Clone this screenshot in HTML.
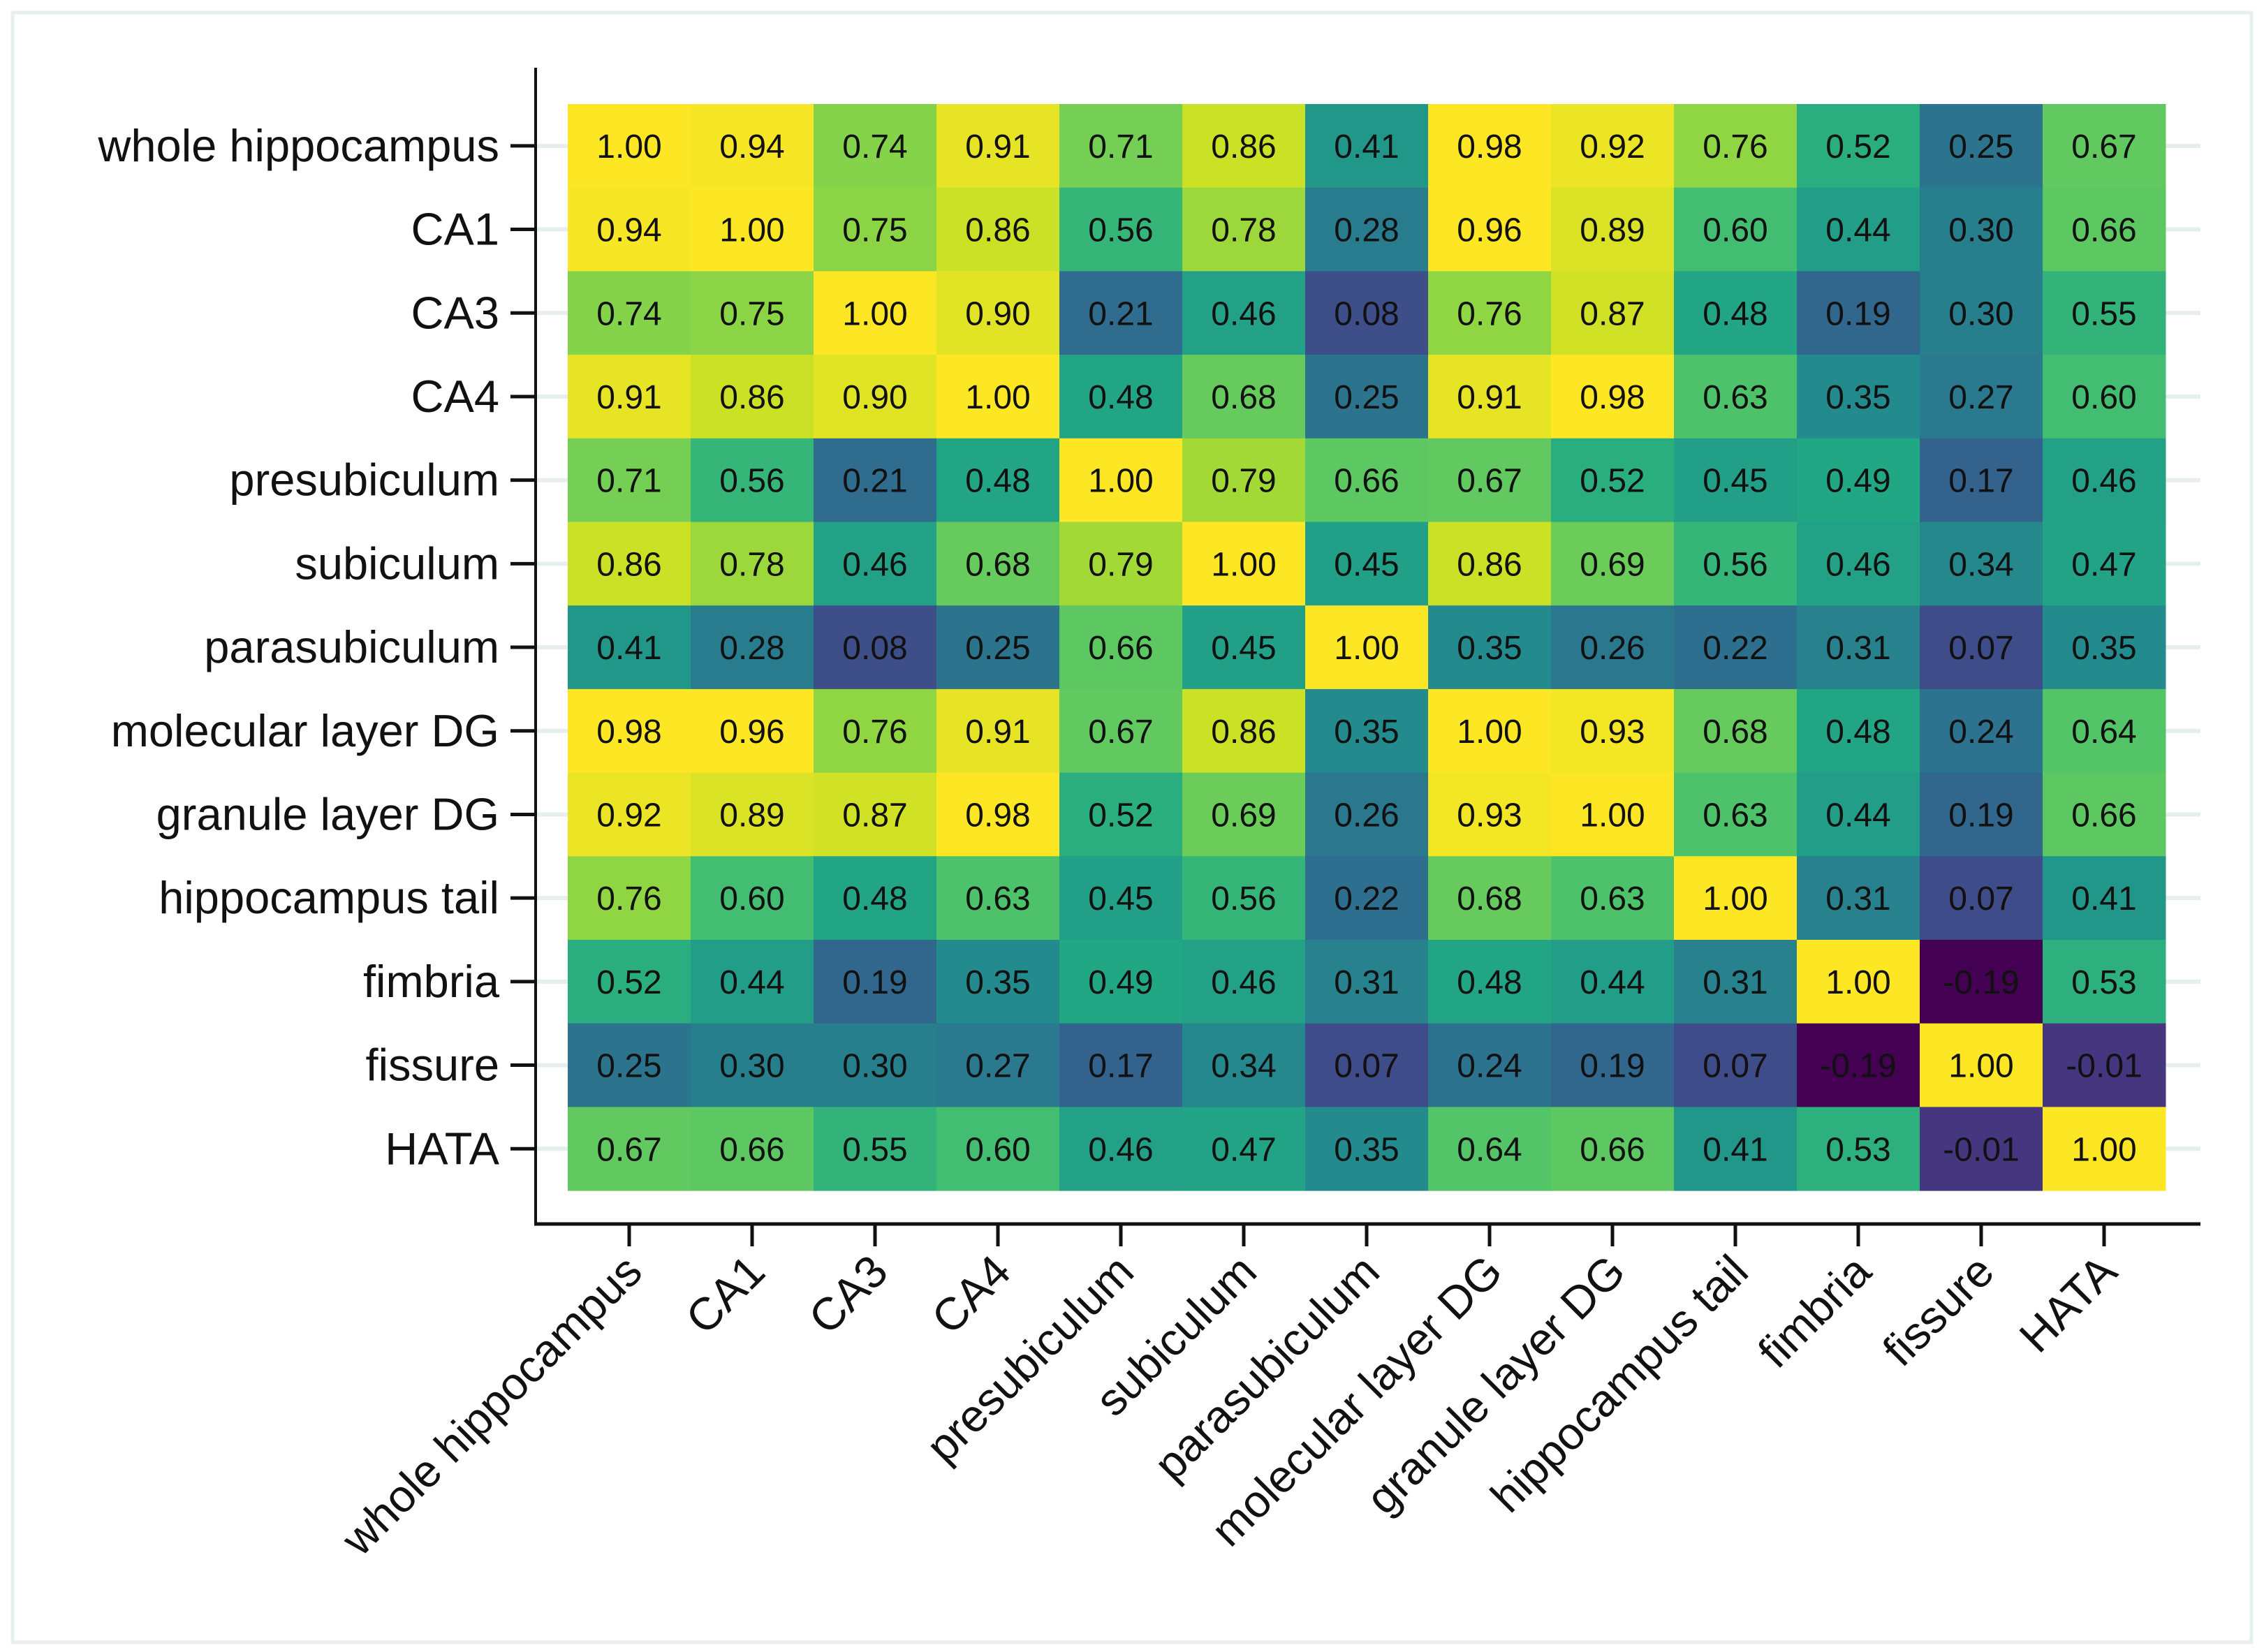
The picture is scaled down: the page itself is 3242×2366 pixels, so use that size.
<!DOCTYPE html>
<html><head><meta charset="utf-8"><style>
html,body{margin:0;padding:0;background:#fff}
svg{display:block;font-family:"Liberation Sans",Arial,sans-serif}
</style></head><body>
<svg id="chart" width="3242" height="2366" viewBox="0 0 3242 2366">
<rect x="0" y="0" width="3242" height="2366" fill="#fff"/>
<rect x="18" y="18" width="3206" height="2334" fill="none" stroke="#e6efee" stroke-width="5"/>
<g id="grid"></g><g id="cells"></g><g id="axes"></g>
</svg>
<script>
const labels = ["whole hippocampus","CA1","CA3","CA4","presubiculum","subiculum","parasubiculum","molecular layer DG","granule layer DG","hippocampus tail","fimbria","fissure","HATA"];
const row0 = [1.00,0.94,0.74,0.91,0.71,0.86,0.41,0.98,0.92,0.76,0.52,0.25,0.67];
const row1 = [0.94,1.00,0.75,0.86,0.56,0.78,0.28,0.96,0.89,0.60,0.44,0.30,0.66];
const row2 = [0.74,0.75,1.00,0.90,0.21,0.46,0.08,0.76,0.87,0.48,0.19,0.30,0.55];
const row3 = [0.91,0.86,0.90,1.00,0.48,0.68,0.25,0.91,0.98,0.63,0.35,0.27,0.60];
const row4 = [0.71,0.56,0.21,0.48,1.00,0.79,0.66,0.67,0.52,0.45,0.49,0.17,0.46];
const row5 = [0.86,0.78,0.46,0.68,0.79,1.00,0.45,0.86,0.69,0.56,0.46,0.34,0.47];
const row6 = [0.41,0.28,0.08,0.25,0.66,0.45,1.00,0.35,0.26,0.22,0.31,0.07,0.35];
const row7 = [0.98,0.96,0.76,0.91,0.67,0.86,0.35,1.00,0.93,0.68,0.48,0.24,0.64];
const row8 = [0.92,0.89,0.87,0.98,0.52,0.69,0.26,0.93,1.00,0.63,0.44,0.19,0.66];
const row9 = [0.76,0.60,0.48,0.63,0.45,0.56,0.22,0.68,0.63,1.00,0.31,0.07,0.41];
const row10 = [0.52,0.44,0.19,0.35,0.49,0.46,0.31,0.48,0.44,0.31,1.00,-0.19,0.53];
const row11 = [0.25,0.30,0.30,0.27,0.17,0.34,0.07,0.24,0.19,0.07,-0.19,1.00,-0.01];
const row12 = [0.67,0.66,0.55,0.60,0.46,0.47,0.35,0.64,0.66,0.41,0.53,-0.01,1.00];
const matrix = [row0,row1,row2,row3,row4,row5,row6,row7,row8,row9,row10,row11,row12];

const NS="http://www.w3.org/2000/svg";
const X0=813, CW=176, Y0=149, RH=119.7, N=labels.length;
const vmin=-0.19, vmax=0.95;
function xs(i){return X0+i*CW;}
function ys(j){return Y0+j*RH;}
const vir=["#440154","#482475","#414487","#355f8d","#2a788e","#21918c","#22a884","#44bf70","#7ad151","#bddf26","#fde725"];
function hex(h){return [1,3,5].map(k=>parseInt(h.substr(k,2),16));}
function color(v){
  let t=(v-vmin)/(vmax-vmin); t=Math.max(0,Math.min(1,t));
  const p=t*(vir.length-1), k=Math.min(vir.length-2,Math.floor(p)), f=p-k;
  const a=hex(vir[k]), b=hex(vir[k+1]);
  return "rgb("+a.map((c,i)=>Math.round(c+(b[i]-c)*f)).join(",")+")";
}
function mk(tag,attrs,parent){const e=document.createElementNS(NS,tag);for(const k in attrs)e.setAttribute(k,attrs[k]);parent.appendChild(e);return e;}
const grid=document.getElementById('grid'), cells=document.getElementById('cells'), axes=document.getElementById('axes');

labels.forEach((lab,j)=>{
  const cy=ys(j)+RH/2;
  const g=mk('line',{x1:767,x2:3151,y1:cy,y2:cy,stroke:'#e6eef0','stroke-width':6},grid);
  
  
});

matrix.forEach((row,j)=>{
  row.forEach((v,i)=>{
    const r=mk('rect',{x:xs(i),y:ys(j),width:CW+0.5,height:RH+0.5,fill:color(v)},cells);
    
    
    const t=mk('text',{x:xs(i)+CW/2,y:ys(j)+RH/2+17,'text-anchor':'middle','font-size':48,fill:'#111'},cells);
    
    
    t.textContent=v.toFixed(2);
  });
});

const ya=mk('line',{x1:767,x2:767,y1:97,y2:1754,stroke:'#111','stroke-width':4},axes);


const xa=mk('line',{x1:765,x2:3151,y1:1753,y2:1753,stroke:'#111','stroke-width':5},axes);



labels.forEach((lab,j)=>{
  const cy=ys(j)+RH/2;
  const tk=mk('line',{x1:731,x2:767,y1:cy,y2:cy,stroke:'#111','stroke-width':5},axes);
  
  
  const t=mk('text',{x:715,y:cy+22,'text-anchor':'end','font-size':65,fill:'#111'},axes);
  
  
  t.textContent=lab;
});
labels.forEach((lab,i)=>{
  const cx=xs(i)+CW/2;
  const tk=mk('line',{x1:cx,x2:cx,y1:1753,y2:1785,stroke:'#111','stroke-width':5},axes);
  
  
  const px=cx+22, py=1825;
  const t=mk('text',{x:px,y:py,'text-anchor':'end','font-size':65,fill:'#111',transform:'rotate(-45 '+px+' '+py+')'},axes);
  
  
  t.textContent=lab;
});
</script>
</body></html>
